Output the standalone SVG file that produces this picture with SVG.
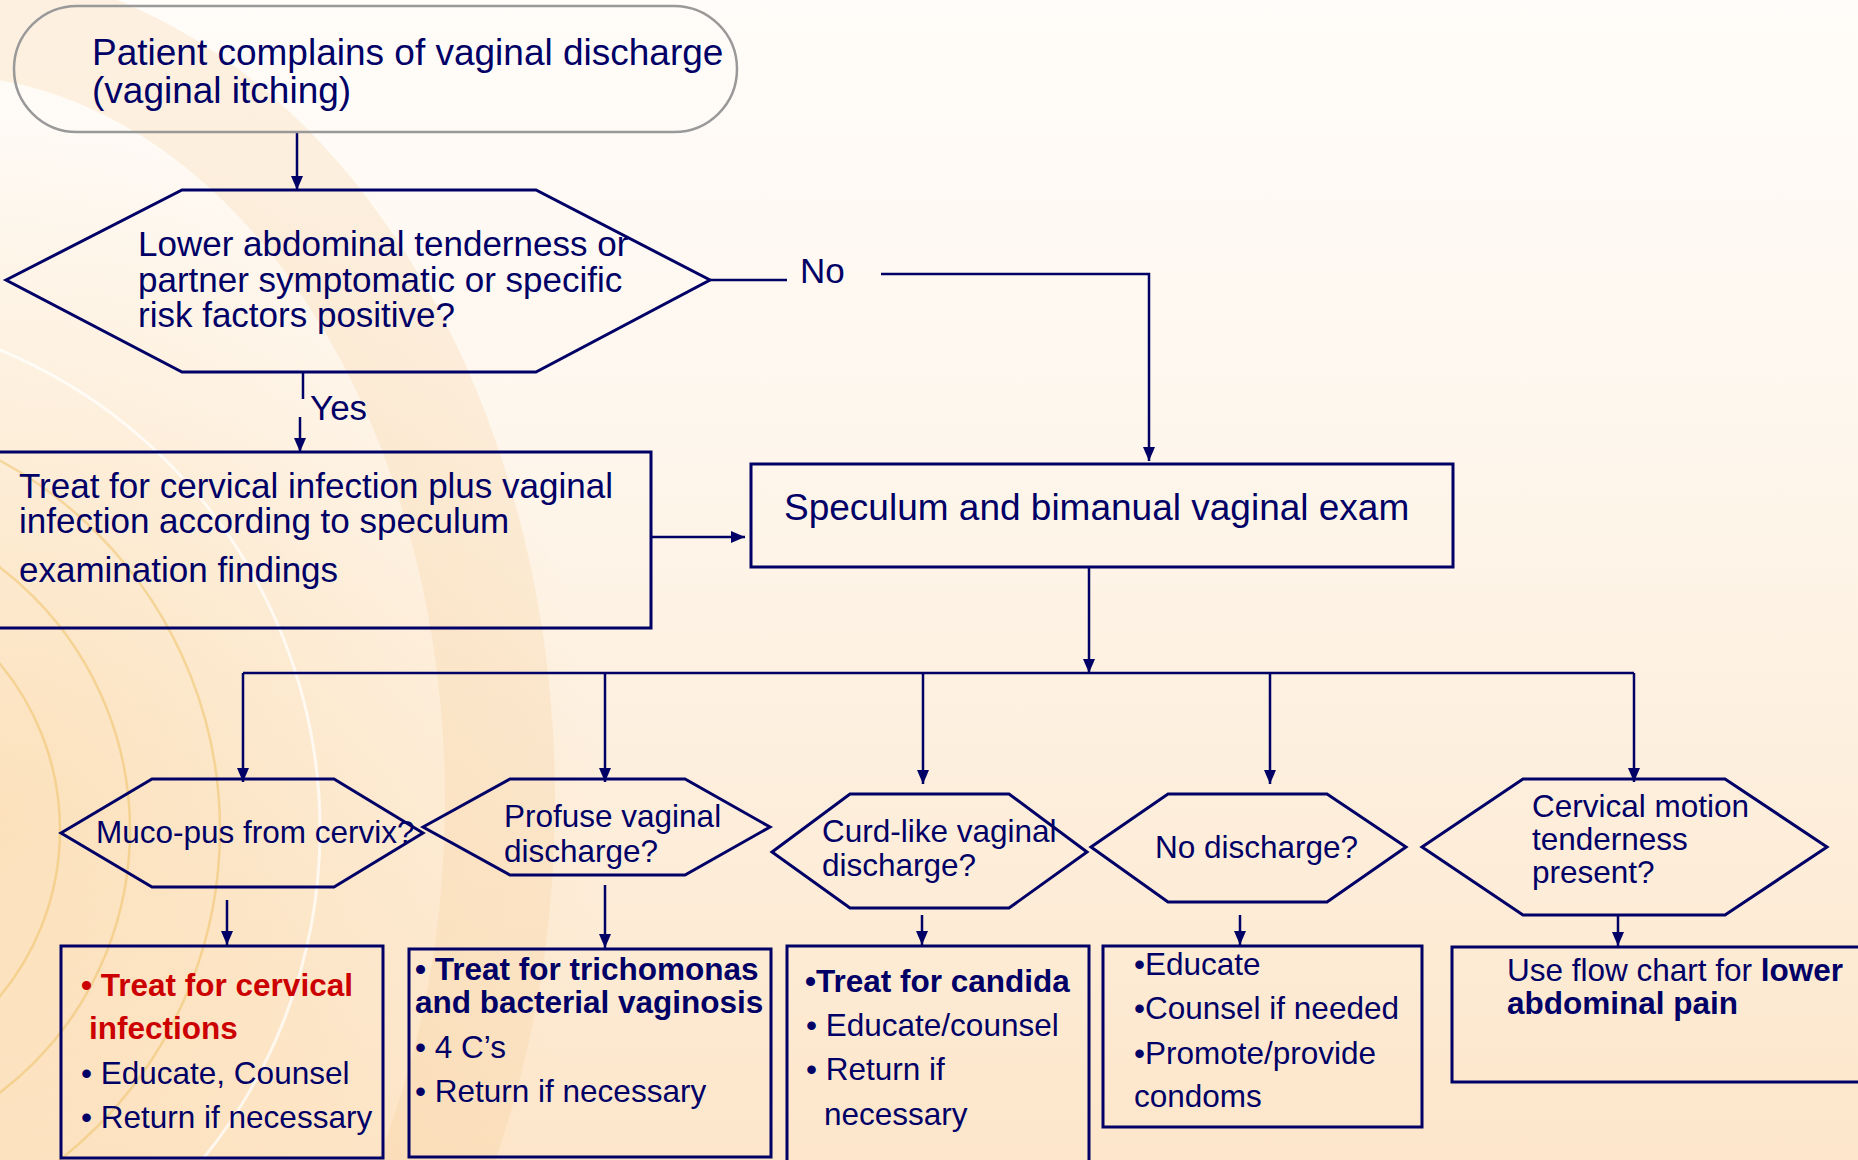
<svg xmlns="http://www.w3.org/2000/svg" width="1858" height="1160" viewBox="0 0 1858 1160">
  <defs>
    <linearGradient id="bg" x1="0" y1="0" x2="0" y2="1">
      <stop offset="0" stop-color="#fffcf9"/>
      <stop offset="0.35" stop-color="#fef7ee"/>
      <stop offset="0.7" stop-color="#fdeedb"/>
      <stop offset="1" stop-color="#fde6ca"/>
    </linearGradient>
    <radialGradient id="glow" cx="0" cy="0.7" r="0.6">
      <stop offset="0" stop-color="#fbd9a8" stop-opacity="0.6"/>
      <stop offset="1" stop-color="#fbd9a8" stop-opacity="0"/>
    </radialGradient>
    <marker id="arr" markerWidth="14" markerHeight="12" refX="14" refY="6" orient="auto" markerUnits="userSpaceOnUse">
      <path d="M0,0 L14,6 L0,12 z" fill="#000066"/>
    </marker>
    <style>
      text { font-family: "Liberation Sans", Arial, sans-serif; fill: #000066; }
      .big { font-size: 37px; }
      .mid { font-size: 35px; }
      .sm { font-size: 31.5px; }
      .b { font-weight: bold; }
      .red { fill: #cc0000; }
      .shape { fill: none; stroke: #000066; stroke-width: 3; }
      .term { fill: none; stroke: #999999; stroke-width: 2.5; }
      .conn { fill: none; stroke: #000066; stroke-width: 2.5; }
      .arrow { marker-end: url(#arr); }
    </style>
  </defs>

  <g id="background">
    <rect x="0" y="0" width="1858" height="1160" fill="url(#bg)"/>
    <rect x="0" y="0" width="1000" height="1160" fill="url(#glow)"/>
    <ellipse cx="-60" cy="800" rx="560" ry="780" fill="none" stroke="#f8c88c" stroke-opacity="0.22" stroke-width="110"/>
    <circle cx="-200" cy="830" r="520" fill="none" stroke="#ffffff" stroke-opacity="0.7" stroke-width="3"/>
    <circle cx="-200" cy="830" r="420" fill="none" stroke="#efc36a" stroke-opacity="0.55" stroke-width="2.5"/>
    <circle cx="-200" cy="830" r="330" fill="none" stroke="#efc36a" stroke-opacity="0.55" stroke-width="2.5"/>
    <circle cx="-200" cy="830" r="260" fill="none" stroke="#efc36a" stroke-opacity="0.55" stroke-width="2.5"/>
  </g>

  <g id="connectors">
    <line class="conn arrow" x1="297" y1="132" x2="297" y2="190"/>
    <line class="conn" x1="710" y1="280" x2="787" y2="280"/>
    <polyline class="conn arrow" points="881,274 1149,274 1149,461"/>
    <line class="conn" x1="303" y1="372" x2="303" y2="399"/>
    <line class="conn arrow" x1="300" y1="417" x2="300" y2="452"/>
    <line class="conn arrow" x1="651" y1="537" x2="745" y2="537"/>
    <line class="conn arrow" x1="1089" y1="567" x2="1089" y2="673"/>
    <line class="conn" x1="243" y1="673" x2="1634" y2="673"/>
    <line class="conn arrow" x1="243" y1="673" x2="243" y2="782"/>
    <line class="conn arrow" x1="605" y1="673" x2="605" y2="782"/>
    <line class="conn arrow" x1="923" y1="673" x2="923" y2="784"/>
    <line class="conn arrow" x1="1270" y1="673" x2="1270" y2="784"/>
    <line class="conn arrow" x1="1634" y1="673" x2="1634" y2="782"/>
    <line class="conn arrow" x1="227" y1="900" x2="227" y2="945"/>
    <line class="conn arrow" x1="605" y1="885" x2="605" y2="948"/>
    <line class="conn arrow" x1="922" y1="915" x2="922" y2="945"/>
    <line class="conn arrow" x1="1240" y1="915" x2="1240" y2="945"/>
    <line class="conn arrow" x1="1618" y1="915" x2="1618" y2="946"/>
    <text class="mid" x="800" y="283">No</text>
    <text class="mid" x="310" y="420">Yes</text>
  </g>

  <g id="start">
    <rect class="term" x="14" y="6" width="723" height="126" rx="63" ry="63"/>
    <text class="big" x="92" y="65">Patient complains of vaginal discharge</text>
    <text class="big" x="92" y="103">(vaginal itching)</text>
  </g>

  <g id="decision-risk">
    <polygon class="shape" points="6,280 182,190 536,190 710,280 536,372 182,372"/>
    <text class="mid" x="138" y="256">Lower abdominal tenderness or</text>
    <text class="mid" x="138" y="292">partner symptomatic or specific</text>
    <text class="mid" x="138" y="327">risk factors positive?</text>
  </g>

  <g id="treat-cervical">
    <rect class="shape" x="-3" y="452" width="654" height="176"/>
    <text class="mid" x="19" y="498">Treat for cervical infection plus vaginal</text>
    <text class="mid" x="19" y="533">infection according to speculum</text>
    <text class="mid" x="19" y="582">examination findings</text>
  </g>

  <g id="speculum">
    <rect class="shape" x="751" y="464" width="702" height="103"/>
    <text class="big" x="784" y="520">Speculum and bimanual vaginal exam</text>
  </g>

  <g id="decision-mucopus">
    <polygon class="shape" points="61,833 152,779 334,779 423,833 334,887 152,887"/>
    <text class="sm" x="96" y="843">Muco-pus from cervix?</text>
  </g>

  <g id="decision-profuse">
    <polygon class="shape" points="423,827 510,779 685,779 770,827 685,875 510,875"/>
    <text class="sm" x="504" y="827">Profuse vaginal</text>
    <text class="sm" x="504" y="862">discharge?</text>
  </g>

  <g id="decision-curd">
    <polygon class="shape" points="772,852 850,794 1009,794 1087,852 1009,908 850,908"/>
    <text class="sm" x="822" y="842">Curd-like vaginal</text>
    <text class="sm" x="822" y="876">discharge?</text>
  </g>

  <g id="decision-nodischarge">
    <polygon class="shape" points="1091,847 1168,794 1327,794 1406,847 1327,902 1168,902"/>
    <text class="sm" x="1155" y="858">No discharge?</text>
  </g>

  <g id="decision-cmt">
    <polygon class="shape" points="1422,847 1523,779 1725,779 1827,847 1725,915 1523,915"/>
    <text class="sm" x="1532" y="817">Cervical motion</text>
    <text class="sm" x="1532" y="850">tenderness</text>
    <text class="sm" x="1532" y="883">present?</text>
  </g>

  <g id="box-cervical">
    <rect class="shape" x="61" y="946" width="322" height="212"/>
    <text class="sm b red" x="81" y="996">• Treat for cervical</text>
    <text class="sm b red" x="89" y="1039">infections</text>
    <text class="sm" x="81" y="1084">• Educate, Counsel</text>
    <text class="sm" x="81" y="1128">• Return if necessary</text>
  </g>

  <g id="box-trich">
    <rect class="shape" x="409" y="949" width="362" height="208"/>
    <text class="sm b" x="415" y="980">• Treat for trichomonas</text>
    <text class="sm b" x="415" y="1013">and bacterial vaginosis</text>
    <text class="sm" x="415" y="1058">• 4 C’s</text>
    <text class="sm" x="415" y="1102">• Return if necessary</text>
  </g>

  <g id="box-candida">
    <rect class="shape" x="787" y="946" width="302" height="224"/>
    <text class="sm b" x="805" y="992">•Treat for candida</text>
    <text class="sm" x="806" y="1036">• Educate/counsel</text>
    <text class="sm" x="806" y="1080">• Return if</text>
    <text class="sm" x="824" y="1125">necessary</text>
  </g>

  <g id="box-educate">
    <rect class="shape" x="1103" y="946" width="319" height="181"/>
    <text class="sm" x="1134" y="975">•Educate</text>
    <text class="sm" x="1134" y="1019">•Counsel if needed</text>
    <text class="sm" x="1134" y="1064">•Promote/provide</text>
    <text class="sm" x="1134" y="1107">condoms</text>
  </g>

  <g id="box-lap">
    <rect class="shape" x="1452" y="947" width="420" height="135"/>
    <text class="sm" x="1507" y="981">Use flow chart for <tspan class="b">lower</tspan></text>
    <text class="sm b" x="1507" y="1014">abdominal pain</text>
  </g>
</svg>
